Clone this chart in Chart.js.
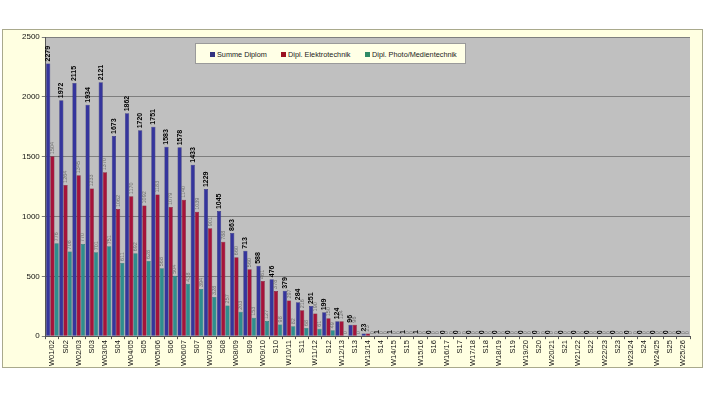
<!DOCTYPE html>
<html>
<head>
<meta charset="utf-8">
<script src="https://cdn.jsdelivr.net/npm/chart.js@4/dist/chart.umd.min.js"></script>
<style>
  html, body { margin:0; padding:0; background:#ffffff; width:705px; height:397px; overflow:hidden; }
  #frame { position:absolute; left:2px; top:29px; width:701px; height:339px; box-sizing:border-box;
           background:#FFFFE1; border:1px solid #A9A98C; }
  #c { position:absolute; left:0; top:0; }
  #legend { position:absolute; left:195px; top:43px; width:271px; height:21px; box-sizing:border-box;
            background:#FFFFE6; border:1px solid #9A9A9A; font-family:Arial,'Liberation Sans',sans-serif;
            font-size:7.3px; color:#222; }
  #legend span.item { position:absolute; top:5.5px; white-space:nowrap; }
  #legend span.sw { display:inline-block; width:5px; height:5px; margin-right:2px; vertical-align:0px; }
</style>
</head>
<body>
<div id="frame"><canvas id="c" width="699" height="337"></canvas></div>
<div id="legend"></div>
<script>
const categories = ['W01/02','S02','W02/03','S03','W03/04','S04','W04/05','S05','W05/06','S06',
  'W06/07','S07','W07/08','S08','W08/09','S09','W09/10','S10','W10/11','S11','W11/12','S12',
  'W12/13','S13','W13/14','S14','W14/15','S15','W15/16','S16','W16/17','S17','W17/18','S18',
  'W18/19','S19','W19/20','S20','W20/21','S21','W21/22','S22','W22/23','S23','W23/24','S24',
  'W24/25','S25','W25/26'];
const seriesNames = ['Summe Diplom','Dipl. Elektrotechnik','Dipl. Photo/Medientechnik'];
const summeDiplom = [2279,1972,2115,1934,2121,1673,1862,1720,1751,1583,1578,1433,1229,1045,863,713,
  588,476,379,284,251,199,124,96,23,1,1,1,1,0,0,0,0,0,0,0,0,0,0,0,0,0,0,0,0,0,0,0,0];
const elektrotechnik = [1504,1264,1345,1233,1370,1062,1170,1092,1183,1079,1140,1039,901,788,660,560,
  461,378,297,216,190,150,124,96,23,0,0,0,0,0,0,0,0,0,0,0,0,0,0,0,0,0,0,0,0,0,0,0,0];
const medientechnik = [776,708,770,701,751,611,692,628,568,504,438,394,328,257,203,153,
  127,98,82,68,61,49,0,0,0,0,0,0,0,0,0,0,0,0,0,0,0,0,0,0,0,0,0,0,0,0,0,0,0];
const yTicks = [0,500,1000,1500,2000,2500];

const colors = ['#35359C','#A5133A','#2E8E8E'];
const borders = ['#22226E','#720A24','#1D6666'];
const swatch = ['#333380','#9A1020','#2F8A66'];

const FONT = "Arial, 'Liberation Sans', sans-serif";

const plotBg = {
  id:'plotBg',
  beforeDraw(chart){
    const {ctx, chartArea:a} = chart;
    ctx.save();
    ctx.fillStyle = '#C0C0C0';
    ctx.fillRect(a.left, a.top, a.right-a.left, a.bottom-a.top);
    ctx.restore();
  }
};

const valueLabels = {
  id:'valueLabels',
  afterDatasetsDraw(chart){
    const ctx = chart.ctx;
    chart.data.datasets.forEach((ds, di) => {
      const meta = chart.getDatasetMeta(di);
      meta.data.forEach((el, i) => {
        const v = ds.data[i];
        ctx.save();
        ctx.translate(el.x, el.y - 2);
        ctx.rotate(-Math.PI/2);
        ctx.textAlign = 'left';
        ctx.textBaseline = 'middle';
        if (di === 0) { ctx.font = 'bold 7px ' + FONT; ctx.fillStyle = '#000'; }
        else { ctx.font = '5.5px ' + FONT; ctx.fillStyle = '#6f6f6f'; }
        ctx.fillText(String(v), 0, 0);
        ctx.restore();
      });
    });
  }
};

const seriesData = [summeDiplom, elektrotechnik, medientechnik];

new Chart(document.getElementById('c'), {
  type:'bar',
  data:{
    labels: categories,
    datasets: seriesData.map((d, i) => ({
      label: seriesNames[i], data: d,
      backgroundColor: colors[i], borderColor: borders[i], borderWidth: 0.5,
      categoryPercentage: 0.96, barPercentage: 1.0
    }))
  },
  options:{
    responsive:false, animation:false,
    layout:{ padding:{ top:7, right:12, left:17, bottom:0 } },
    plugins:{ legend:{display:false}, tooltip:{enabled:false} },
    scales:{
      x:{
        offset:true,
        grid:{ display:true, drawOnChartArea:false, offset:true, tickLength:3, color:'#555' },
        border:{ color:'#555', width:1 },
        ticks:{ autoSkip:false, minRotation:90, maxRotation:90, padding:1,
                font:{ family:FONT, size:7.5 }, color:'#111' }
      },
      y:{
        min:0, max:2500,
        afterBuildTicks(axis){ axis.ticks = yTicks.map(v => ({value:v})); },
        grid:{ color:'#7E7E7E', lineWidth:1, tickLength:4, drawTicks:true },
        border:{ color:'#555', width:1 },
        ticks:{ padding:2, font:{ family:FONT, size:8 }, color:'#111',
                callback:(v) => String(v) }
      }
    }
  },
  plugins:[plotBg, valueLabels]
});

const lg = document.getElementById('legend');
const lefts = [14, 85, 169];
seriesNames.forEach((n, i) => {
  const s = document.createElement('span');
  s.className = 'item';
  s.style.left = lefts[i] + 'px';
  s.innerHTML = '<span class="sw" style="background:' + swatch[i] + '"></span>' + n;
  lg.appendChild(s);
});
</script>
</body>
</html>
